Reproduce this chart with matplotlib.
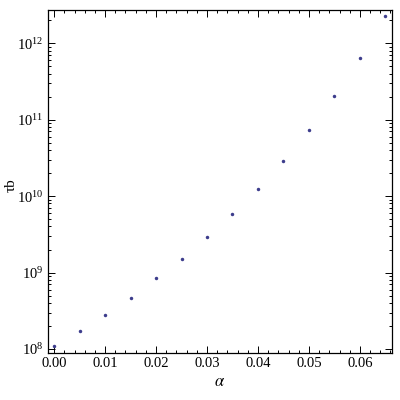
import matplotlib
matplotlib.use('Agg')
import matplotlib.pyplot as plt
from matplotlib.ticker import MultipleLocator, LogLocator, NullFormatter

plt.rcParams['font.family'] = ['Liberation Serif', 'DejaVu Serif']
plt.rcParams['mathtext.fontset'] = 'stix'

# alpha values and tau_b
alpha = [0.000, 0.005, 0.010, 0.015, 0.020, 0.025, 0.030,
         0.035, 0.040, 0.045, 0.050, 0.055, 0.060, 0.065]
tau_b = [1.10e8, 1.73e8, 2.81e8, 4.69e8, 8.55e8, 1.51e9, 2.94e9,
         5.87e9, 1.25e10, 2.89e10, 7.36e10, 2.05e11, 6.42e11, 2.27e12]

fig = plt.figure(figsize=(4, 4), dpi=100)
ax = fig.add_axes([0.12, 0.1175, 0.86, 0.8585])

ax.plot(alpha, tau_b, linestyle='none', marker='o', markersize=2.5,
        color=(0.24, 0.24, 0.55), markeredgewidth=0, clip_on=False, zorder=5)

ax.set_yscale('log')
ax.set_xlim(-0.0012, 0.0663)
ax.set_ylim(10**7.948, 10**12.438)

ax.xaxis.set_major_locator(MultipleLocator(0.01))
ax.xaxis.set_minor_locator(MultipleLocator(0.002))
ax.xaxis.set_major_formatter(plt.FuncFormatter(lambda v, p: '%.2f' % v))
ax.yaxis.set_major_locator(LogLocator(base=10, numticks=10))
ax.yaxis.set_minor_locator(LogLocator(base=10, subs=range(2, 10), numticks=20))
ax.yaxis.set_minor_formatter(NullFormatter())

ax.tick_params(which='both', direction='in', top=True, right=True,
               labelsize=10.5, width=0.7, pad=3)
ax.tick_params(which='major', length=5)
ax.tick_params(which='minor', length=2.5)
for s in ax.spines.values():
    s.set_linewidth(0.9)

ax.set_xlabel(r'$\alpha$', fontsize=12, labelpad=3)
ax.set_ylabel('τb', fontsize=11)
ax.yaxis.set_label_coords(-0.088, 0.49)

plt.savefig('out.png', dpi=100)
